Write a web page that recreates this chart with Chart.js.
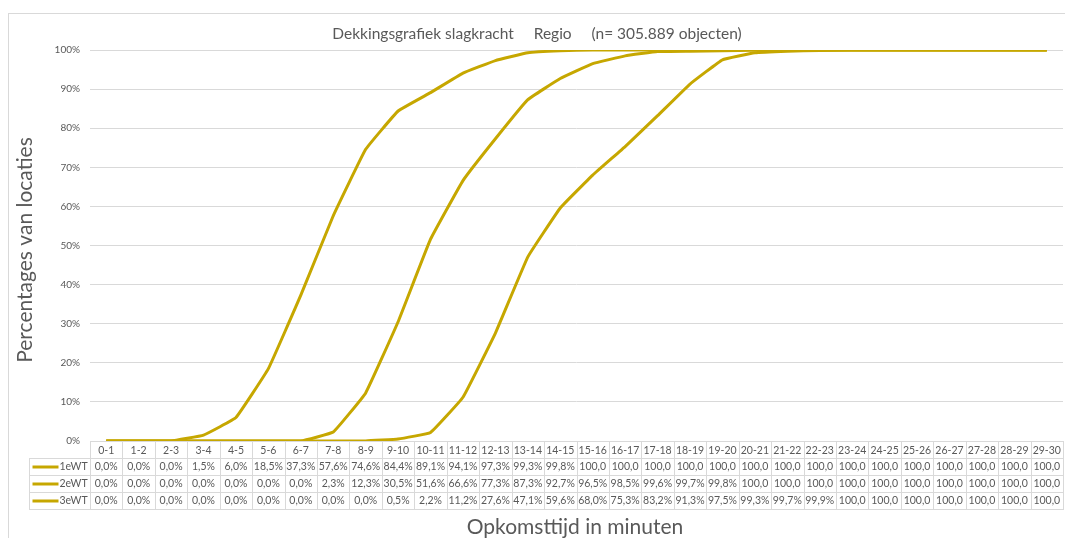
<!DOCTYPE html>
<html>
<head>
<meta charset="utf-8">
<script src="https://cdn.jsdelivr.net/npm/chart.js@4/dist/chart.umd.min.js"></script>
<style>
  html, body { margin: 0; padding: 0; background: #fff; }
  #wrap { width: 1065px; height: 538px; }
</style>
</head>
<body>
<div id="wrap"><canvas id="chartDekking" width="1065" height="538"></canvas></div>
<script>
var categories = ["0-1","1-2","2-3","3-4","4-5","5-6","6-7","7-8","8-9","9-10",
    "10-11","11-12","12-13","13-14","14-15","15-16","16-17","17-18","18-19","19-20",
    "20-21","21-22","22-23","23-24","24-25","25-26","26-27","27-28","28-29","29-30"];

var seriesNames = ["1eWT", "2eWT", "3eWT"];

var wt1 = [0.0, 0.0, 0.0, 1.5, 6.0, 18.5, 37.3, 57.6, 74.6, 84.4,
    89.1, 94.1, 97.3, 99.3, 99.8, 100, 100, 100, 100, 100,
    100, 100, 100, 100, 100, 100, 100, 100, 100, 100];
var wt2 = [0.0, 0.0, 0.0, 0.0, 0.0, 0.0, 0.0, 2.3, 12.3, 30.5,
    51.6, 66.6, 77.3, 87.3, 92.7, 96.5, 98.5, 99.6, 99.7, 99.8,
    100, 100, 100, 100, 100, 100, 100, 100, 100, 100];
var wt3 = [0.0, 0.0, 0.0, 0.0, 0.0, 0.0, 0.0, 0.0, 0.0, 0.5,
    2.2, 11.2, 27.6, 47.1, 59.6, 68.0, 75.3, 83.2, 91.3, 97.5,
    99.3, 99.7, 99.9, 100, 100, 100, 100, 100, 100, 100];

var yTicks = [0, 10, 20, 30, 40, 50, 60, 70, 80, 90, 100];

var chartTitle = "Dekkingsgrafiek slagkracht     Regio     (n= 305.889 objecten)";
var yTitle = "Percentages van locaties";
var xTitle = "Opkomsttijd in minuten";

var lineColor = '#C6A700';
var textColor = '#595959';
var gridColor = '#D9D9D9';
var fontFamily = 'Lato, "Open Sans", sans-serif';

function fmt(v) {
    return v.toFixed(1).replace('.', ',') + '%';
}

// Excel-style data table + titles underneath the plot
var tablePlugin = {
    id: 'dataTable',
    beforeDraw: function (chart) {
        var ctx = chart.ctx;
        ctx.save();
        ctx.strokeStyle = gridColor;
        ctx.lineWidth = 1;
        ctx.strokeRect(8.5, 13.5, chart.width + 20, chart.height + 20);
        ctx.restore();
    },
    afterDraw: function (chart) {
        var ctx = chart.ctx;
        var area = chart.chartArea;
        var xs = chart.scales.x;
        var colW = (area.right - area.left) / categories.length;
        var rowH = 17;
        var top = area.bottom;
        var legendLeft = 29.5;
        var all = [wt1, wt2, wt3];

        ctx.save();
        ctx.strokeStyle = gridColor;
        ctx.lineWidth = 1;
        ctx.font = '10.5px ' + fontFamily;
        ctx.fillStyle = textColor;
        ctx.textAlign = 'center';
        ctx.textBaseline = 'middle';

        // header row
        for (var i = 0; i < categories.length; i++) {
            var cx = xs.getPixelForValue(i);
            var x0 = Math.round(cx - colW / 2) + 0.5;
            var x1 = Math.round(cx + colW / 2) + 0.5;
            ctx.strokeRect(x0, top + 0.5, x1 - x0, rowH);
            ctx.fillText(categories[i], cx, top + rowH / 2 + 1);
        }

        // series rows
        for (var r = 0; r < all.length; r++) {
            var y0 = top + rowH * (r + 1) + 0.5;
            var cy = y0 + rowH / 2;
            var lx1 = Math.round(area.left) + 0.5;
            ctx.strokeRect(legendLeft, y0, lx1 - legendLeft, rowH);

            ctx.save();
            ctx.strokeStyle = lineColor;
            ctx.lineWidth = 3;
            ctx.beginPath();
            ctx.moveTo(legendLeft + 3, cy);
            ctx.lineTo(legendLeft + 29, cy);
            ctx.stroke();
            ctx.restore();

            ctx.textAlign = 'left';
            ctx.fillText(seriesNames[r], legendLeft + 30, cy);
            ctx.textAlign = 'center';

            for (var j = 0; j < categories.length; j++) {
                var px = xs.getPixelForValue(j);
                var a0 = Math.round(px - colW / 2) + 0.5;
                var a1 = Math.round(px + colW / 2) + 0.5;
                ctx.strokeRect(a0, y0, a1 - a0, rowH);
                var txt = fmt(all[r][j]);
                if (ctx.measureText(txt).width > colW - 3) txt = txt.replace('%', '');
                ctx.fillText(txt, px, cy);
            }
        }

        // chart title
        ctx.font = '15.5px ' + fontFamily;
        ctx.textAlign = 'center';
        ctx.fillText(chartTitle, 537, 34);

        // axis titles
        ctx.font = '21px ' + fontFamily;
        ctx.fillText(xTitle, 575, 527);
        ctx.translate(25, 250);
        ctx.rotate(-Math.PI / 2);
        ctx.fillText(yTitle, 0, 0);
        ctx.restore();
    }
};

function makeSet(label, values) {
    return {
        label: label,
        data: values,
        borderColor: lineColor,
        backgroundColor: lineColor,
        borderWidth: 3,
        pointRadius: 0,
        tension: 0.08,
        fill: false
    };
}

new Chart(document.getElementById('chartDekking'), {
    type: 'line',
    data: {
        labels: categories,
        datasets: [
            makeSet(seriesNames[0], wt1),
            makeSet(seriesNames[1], wt2),
            makeSet(seriesNames[2], wt3)
        ]
    },
    options: {
        responsive: false,
        animation: false,
        layout: { padding: { top: 50, right: 2, bottom: 97, left: 0 } },
        plugins: {
            legend: { display: false },
            tooltip: { enabled: false },
            title: { display: false }
        },
        scales: {
            x: {
                display: false,
                offset: true
            },
            y: {
                min: 0,
                max: 100,
                afterFit: function (scale) { scale.width = 90; },
                afterBuildTicks: function (scale) {
                    scale.ticks = yTicks.map(function (v) { return { value: v }; });
                },
                border: { display: false },
                grid: { color: gridColor, lineWidth: 1, drawTicks: false },
                ticks: {
                    padding: 10,
                    color: textColor,
                    font: { size: 10, family: fontFamily },
                    callback: function (v) { return v + '%'; }
                }
            }
        }
    },
    plugins: [tablePlugin]
});
</script>
</body>
</html>
